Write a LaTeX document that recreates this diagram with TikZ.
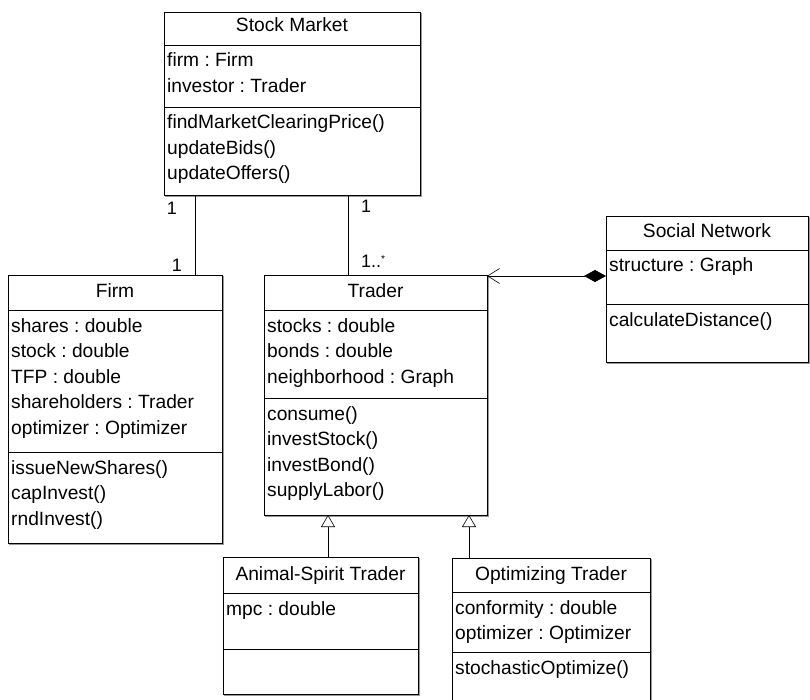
\documentclass[tikz,border=0pt]{standalone}
\usepackage{fontspec}
\setmainfont{Liberation Sans}
\usetikzlibrary{arrows.meta}
\frenchspacing
\begin{document}
\begin{tikzpicture}[x=1pt,y=-1pt,
  cls/.style={draw, line width=0.9pt, fill=white, inner sep=0pt, outer sep=0pt, anchor=north west,
    preaction={draw=black!40, line width=0.9pt, transform canvas={xshift=1.2pt,yshift=-1.2pt}}},
  txt/.style={anchor=base west, inner sep=0pt, font=\fontsize{19.2}{22}\selectfont},
  ttl/.style={anchor=base, inner sep=0pt, font=\fontsize{19.2}{22}\selectfont},
  sepl/.style={line width=0.9pt},
  conn/.style={line width=0.6pt},
  lbl/.style={anchor=base, inner sep=0pt, font=\fontsize{18}{20}\selectfont}]
\useasboundingbox (0,0) rectangle (810,700);
\clip (0,0) rectangle (810,700);

% Stock Market
\node[cls, minimum width=256pt, minimum height=183pt] (sm) at (164,12) {};
\draw[sepl] (sm.west |- 0,45) -- (sm.east |- 0,45);
\draw[sepl] (sm.west |- 0,107) -- (sm.east |- 0,107);
\node[ttl] (smt) at (sm.north |- 0,32) {Stock Market};
\node[txt] (sma1) at (167,67) {firm : Firm};
\node[txt] (sma2) at (167,92.5) {investor : Trader};
\node[txt] (smm1) at (167,129) {findMarketClearingPrice()};
\node[txt] (smm2) at (167,154.5) {updateBids()};
\node[txt] (smm3) at (167,180) {updateOffers()};

% Firm
\node[cls, minimum width=214pt, minimum height=268pt] (firm) at (8,275) {};
\draw[sepl] (firm.west |- 0,310) -- (firm.east |- 0,310);
\draw[sepl] (firm.west |- 0,452) -- (firm.east |- 0,452);
\node[ttl] (firmt) at (firm.north |- 0,297) {Firm};
\node[txt] (fa1) at (11,332) {shares : double};
\node[txt] (fa2) at (11,357.5) {stock : double};
\node[txt] (fa3) at (11,383) {TFP : double};
\node[txt] (fa4) at (11,408.5) {shareholders : Trader};
\node[txt] (fa5) at (11,434) {optimizer : Optimizer};
\node[txt] (fm1) at (11,474) {issueNewShares()};
\node[txt] (fm2) at (11,499.5) {capInvest()};
\node[txt] (fm3) at (11,525) {rndInvest()};

% Trader
\node[cls, minimum width=223pt, minimum height=240pt] (trader) at (264,275) {};
\draw[sepl] (trader.west |- 0,310) -- (trader.east |- 0,310);
\draw[sepl] (trader.west |- 0,398) -- (trader.east |- 0,398);
\node[ttl] (tradert) at (trader.north |- 0,297) {Trader};
\node[txt] (ta1) at (267,332) {stocks : double};
\node[txt] (ta2) at (267,357.5) {bonds : double};
\node[txt] (ta3) at (267,383) {neighborhood : Graph};
\node[txt] (tm1) at (267,420) {consume()};
\node[txt] (tm2) at (267,445.5) {investStock()};
\node[txt] (tm3) at (267,471) {investBond()};
\node[txt] (tm4) at (267,496.5) {supplyLabor()};

% Social Network
\node[cls, minimum width=202pt, minimum height=146pt] (sn) at (606,216) {};
\draw[sepl] (sn.west |- 0,250) -- (sn.east |- 0,250);
\draw[sepl] (sn.west |- 0,304) -- (sn.east |- 0,304);
\node[ttl] (snt) at (sn.north |- 0,238) {Social Network};
\node[txt] (sna1) at (609,272) {structure : Graph};
\node[txt] (snm1) at (609,326) {calculateDistance()};

% Animal-Spirit Trader
\node[cls, minimum width=195pt, minimum height=137pt] (ast) at (223,557) {};
\draw[sepl] (ast.west |- 0,593) -- (ast.east |- 0,593);
\draw[sepl] (ast.west |- 0,649) -- (ast.east |- 0,649);
\node[ttl] (astt) at (ast.north |- 0,580) {Animal-Spirit Trader};
\node[txt] (asta1) at (226,615) {mpc : double};

% Optimizing Trader
\node[cls, minimum width=198pt, minimum height=160pt] (opt) at (452,558) {};
\draw[sepl] (opt.west |- 0,592) -- (opt.east |- 0,592);
\draw[sepl] (opt.west |- 0,652) -- (opt.east |- 0,652);
\node[ttl] (optt) at (opt.north |- 0,580) {Optimizing Trader};
\node[txt] (opta1) at (455,614) {conformity : double};
\node[txt] (opta2) at (455,639.5) {optimizer : Optimizer};
\node[txt] (optm1) at (455,674) {stochasticOptimize()};

% connectors
\coordinate (fx) at (195,0);
\coordinate (tx) at (348,0);
\coordinate (g1) at (328,0);
\coordinate (g2) at (469,0);
\draw[conn] (sm.south -| fx) -- (firm.north -| fx);
\draw[conn] (sm.south -| tx) -- (trader.north -| tx);
\draw[conn, {Straight Barb[length=12pt, width=15pt, line width=0.6pt]}-{Diamond[length=22pt, width=12pt, fill=black]}]
  ([yshift=-1pt]trader.north east) -- ([yshift=-1pt]sn.west |- trader.north east);
\draw[conn, -{Triangle[open, length=12pt, width=14pt, line width=0.6pt]}] (ast.north -| g1) -- (trader.south -| g1);
\draw[conn, -{Triangle[open, length=12pt, width=14pt, line width=0.6pt]}] (opt.north -| g2) -- (trader.south -| g2);

% multiplicities
\node[lbl] (m1) at (172,215) {1};
\node[lbl] (m2) at (177,272) {1};
\node[lbl] (m3) at (366,213) {1};
\node[lbl, anchor=base west] (m4) at (361,268) {1..\raisebox{5pt}{\fontsize{10}{10}\selectfont *}};
\end{tikzpicture}
\end{document}
